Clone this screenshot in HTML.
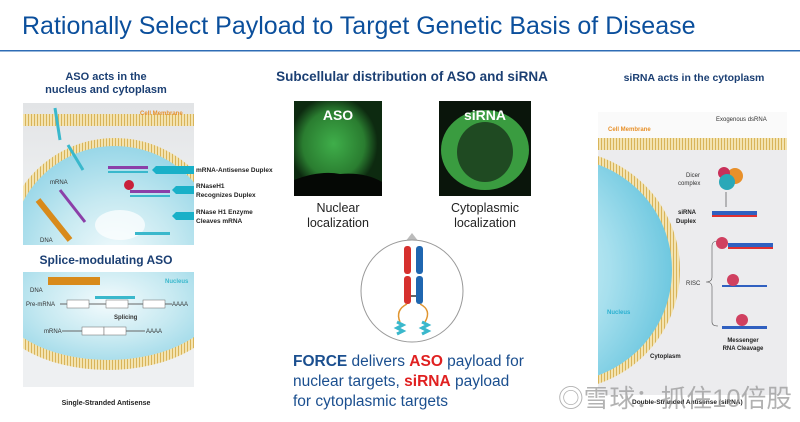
<!DOCTYPE html>
<html><head><meta charset="utf-8"><style>
body{margin:0;width:800px;height:422px;overflow:hidden;background:#fff;font-family:"Liberation Sans",sans-serif;}
svg{display:block}
</style></head><body>
<svg width="800" height="422" viewBox="0 0 800 422" xmlns="http://www.w3.org/2000/svg" font-family="Liberation Sans, sans-serif">
<defs>
<radialGradient id="nuc" cx="0.5" cy="0.55" r="0.6"><stop offset="0" stop-color="#f4fbfd"/><stop offset="0.5" stop-color="#c6e9f1"/><stop offset="1" stop-color="#8fd3e6"/></radialGradient>
<radialGradient id="nuc2" cx="0.3" cy="0.5" r="0.7"><stop offset="0" stop-color="#e6f7fb"/><stop offset="0.6" stop-color="#a8e0ee"/><stop offset="1" stop-color="#6fc8e0"/></radialGradient>
<linearGradient id="cyt" x1="0" y1="0" x2="0" y2="1"><stop offset="0" stop-color="#e2e4e6"/><stop offset="1" stop-color="#f4f5f6"/></linearGradient>
<pattern id="mem" width="3" height="10" patternUnits="userSpaceOnUse"><rect width="3" height="10" fill="#f3e3b0"/><rect x="1" width="1" height="10" fill="#d8b45a"/></pattern>
<radialGradient id="gA" cx="0.45" cy="0.45" r="0.5"><stop offset="0" stop-color="#3fae4a"/><stop offset="0.7" stop-color="#2a7d30"/><stop offset="1" stop-color="#0d2a10"/></radialGradient>
<clipPath id="c1"><rect x="23" y="103" width="171" height="142"/></clipPath>
<clipPath id="c2"><rect x="23" y="272" width="171" height="115"/></clipPath>
<clipPath id="c3"><rect x="598" y="112" width="189" height="283"/></clipPath>
</defs>

<text x="22" y="34" font-size="25" fill="#0b4f9c">Rationally Select Payload to Target Genetic Basis of Disease</text>
<rect x="0" y="50" width="800" height="1.5" fill="#2e6cb5"/>

<g font-weight="bold" fill="#1b3f73" font-size="11" text-anchor="middle">
<text x="106" y="80">ASO acts in the</text>
<text x="106" y="93">nucleus and cytoplasm</text>
<text x="106" y="264" font-size="12">Splice-modulating ASO</text>
</g>
<g clip-path="url(#c1)">
<rect x="23" y="103" width="171" height="142" fill="url(#cyt)"/>
<rect x="23" y="114" width="171" height="12" fill="url(#mem)"/>
<circle cx="115" cy="250" r="112" fill="url(#mem)"/>
<circle cx="115" cy="250" r="104" fill="url(#nuc)"/>
<ellipse cx="120" cy="225" rx="25" ry="15" fill="#fff" opacity="0.7"/>
<text x="140" y="115" font-size="6" font-weight="bold" fill="#e8912a">Cell Membrane</text>
<line x1="55" y1="108" x2="60" y2="140" stroke="#3ab8cc" stroke-width="3"/>
<line x1="68" y1="145" x2="83" y2="170" stroke="#3ab8cc" stroke-width="3"/>
<rect x="108" y="166" width="40" height="3" fill="#8b3fa8"/><rect x="108" y="171" width="40" height="2" fill="#3ab8cc"/>
<rect x="130" y="190" width="40" height="3" fill="#8b3fa8"/><rect x="130" y="195" width="40" height="2" fill="#3ab8cc"/>
<circle cx="129" cy="185" r="5" fill="#c8203a"/>
<rect x="135" y="232" width="35" height="3" fill="#3ab8cc"/>
<line x1="60" y1="190" x2="85" y2="222" stroke="#8b3fa8" stroke-width="3"/>
<line x1="38" y1="200" x2="70" y2="240" stroke="#d88a1a" stroke-width="6"/>
<text x="50" y="184" font-size="6" fill="#333">mRNA</text>
<text x="40" y="242" font-size="6" fill="#333">DNA</text>
<polygon points="156,166 194,166 194,174 156,174 152,170" fill="#19b0c8"/>
<polygon points="176,186 194,186 194,194 176,194 172,190" fill="#19b0c8"/>
<polygon points="176,212 194,212 194,220 176,220 172,216" fill="#19b0c8"/>
</g>
<g font-size="6.5" font-weight="bold" fill="#222">
<text x="196" y="172">mRNA-Antisense Duplex</text>
<text x="196" y="188">RNaseH1</text><text x="196" y="197">Recognizes Duplex</text>
<text x="196" y="214">RNase H1 Enzyme</text><text x="196" y="223">Cleaves mRNA</text>
</g>
<g clip-path="url(#c2)">
<rect x="23" y="272" width="171" height="115" fill="#eef0f2"/>
<ellipse cx="108" cy="300" rx="118" ry="70" fill="url(#mem)"/>
<ellipse cx="108" cy="296" rx="112" ry="64" fill="url(#nuc)"/>
<rect x="48" y="277" width="52" height="8" fill="#d88a1a"/>
<text x="165" y="283" font-size="6" font-weight="bold" fill="#3ab8cc">Nucleus</text>
<text x="30" y="292" font-size="6" fill="#333">DNA</text>
<text x="26" y="306" font-size="6" fill="#333">Pre-mRNA</text>
<line x1="60" y1="304" x2="172" y2="304" stroke="#666"/>
<rect x="67" y="300" width="22" height="8" fill="#fff" stroke="#666" stroke-width="0.5"/>
<rect x="106" y="300" width="22" height="8" fill="#fff" stroke="#666" stroke-width="0.5"/>
<rect x="143" y="300" width="22" height="8" fill="#fff" stroke="#666" stroke-width="0.5"/>
<rect x="95" y="296" width="40" height="3" fill="#3ab8cc"/>
<text x="172" y="306" font-size="6" fill="#333">AAAA</text>
<text x="114" y="319" font-size="6" font-weight="bold" fill="#333">Splicing</text>
<text x="44" y="333" font-size="6" fill="#333">mRNA</text>
<line x1="62" y1="331" x2="145" y2="331" stroke="#666"/>
<rect x="82" y="327" width="22" height="8" fill="#fff" stroke="#666" stroke-width="0.5"/>
<rect x="104" y="327" width="22" height="8" fill="#fff" stroke="#666" stroke-width="0.5"/>
<text x="146" y="333" font-size="6" fill="#333">AAAA</text>
</g>
<text x="106" y="405" font-size="7" font-weight="bold" fill="#222" text-anchor="middle">Single-Stranded Antisense</text>

<text x="412" y="81" font-size="13.5" font-weight="bold" fill="#1b3f73" text-anchor="middle">Subcellular distribution of ASO and siRNA</text>
<rect x="294" y="101" width="88" height="95" fill="#1c5a22"/>
<rect x="294" y="101" width="88" height="95" fill="url(#gA)"/>
<path d="M294 180 Q320 170 340 174 Q365 172 382 182 L382 196 L294 196Z" fill="#050805"/>
<text x="338" y="120" font-size="14" font-weight="bold" fill="#fff" text-anchor="middle">ASO</text>
<rect x="439" y="101" width="92" height="95" fill="#0a150b"/>
<ellipse cx="485" cy="150" rx="44" ry="40" fill="#3a9c40"/>
<ellipse cx="485" cy="152" rx="28" ry="30" fill="#1f4a22"/>
<text x="485" y="120" font-size="14" font-weight="bold" fill="#fff" text-anchor="middle">siRNA</text>
<g font-size="12.5" fill="#222" text-anchor="middle">
<text x="338" y="212">Nuclear</text><text x="338" y="227">localization</text>
<text x="485" y="212">Cytoplasmic</text><text x="485" y="227">localization</text>
</g>
<polygon points="412,233 405,242 419,242" fill="#bbb"/>
<circle cx="412" cy="291" r="51" fill="#fff" stroke="#999" stroke-width="1"/>
<rect x="404" y="246" width="7" height="28" rx="3" fill="#d6302e"/>
<rect x="404" y="276" width="7" height="28" rx="3" fill="#d6302e"/>
<rect x="416" y="246" width="7" height="28" rx="3" fill="#1f66b0"/>
<rect x="416" y="276" width="7" height="28" rx="3" fill="#1f66b0"/>
<rect x="411" y="295" width="5" height="2" fill="#666"/>
<path d="M407 304 Q395 310 400 322 M420 304 Q432 310 425 322" fill="none" stroke="#e09530" stroke-width="1.5"/>
<path d="M397 322 l6 3 l-6 3 l6 3 l-6 3 M422 322 l6 3 l-6 3 l6 3 l-6 3" fill="none" stroke="#3ab8cc" stroke-width="3"/>
<g font-size="15.5" fill="#1b4f8f">
<text x="293" y="366"><tspan font-weight="bold">FORCE</tspan> delivers <tspan font-weight="bold" fill="#e02020">ASO</tspan> payload for</text>
<text x="293" y="386">nuclear targets, <tspan font-weight="bold" fill="#e02020">siRNA</tspan> payload</text>
<text x="293" y="406">for cytoplasmic targets</text>
</g>

<text x="694" y="81" font-size="10.5" font-weight="bold" fill="#1b3f73" text-anchor="middle">siRNA acts in the cytoplasm</text>
<g clip-path="url(#c3)">
<rect x="598" y="112" width="189" height="283" fill="#ececee"/>
<rect x="598" y="112" width="189" height="26" fill="#fafafa"/>
<rect x="598" y="138" width="189" height="12" fill="url(#mem)"/>
<circle cx="560" cy="270" r="120" fill="url(#mem)"/>
<circle cx="560" cy="270" r="112" fill="url(#nuc2)"/>
<text x="608" y="131" font-size="6" font-weight="bold" fill="#e8912a">Cell Membrane</text>
<text x="716" y="121" font-size="6" fill="#333">Exogenous dsRNA</text>
<circle cx="735" cy="176" r="8" fill="#e8902a"/>
<circle cx="724" cy="173" r="6" fill="#c8305a"/>
<circle cx="727" cy="182" r="8" fill="#2aa8b8"/>
<text x="686" y="177" font-size="6" fill="#333">Dicer</text><text x="678" y="185" font-size="6" fill="#333">complex</text>
<line x1="726" y1="192" x2="726" y2="207" stroke="#333" stroke-width="0.6"/>
<rect x="712" y="211" width="45" height="4" fill="#3060c0"/><rect x="712" y="215" width="45" height="2" fill="#e03030"/>
<text x="678" y="214" font-size="6" font-weight="bold" fill="#222">siRNA</text><text x="676" y="223" font-size="6" font-weight="bold" fill="#222">Duplex</text>
<path d="M718 241 Q712 241 712 246 L712 277 Q712 282 706 282 Q712 282 712 287 L712 322 Q712 326 718 326" fill="none" stroke="#555" stroke-width="0.6"/>
<text x="686" y="285" font-size="6" fill="#333">RISC</text>
<rect x="728" y="243" width="45" height="4" fill="#3060c0"/><rect x="728" y="247" width="45" height="2" fill="#e03030"/>
<circle cx="722" cy="243" r="6" fill="#d04060"/>
<rect x="722" y="285" width="45" height="2" fill="#3060c0"/><circle cx="733" cy="280" r="6" fill="#d04060"/>
<rect x="722" y="326" width="45" height="3" fill="#3060c0"/><circle cx="742" cy="320" r="6" fill="#d04060"/>
<text x="743" y="342" font-size="6" font-weight="bold" fill="#222" text-anchor="middle">Messenger</text>
<text x="743" y="350" font-size="6" font-weight="bold" fill="#222" text-anchor="middle">RNA Cleavage</text>
<text x="607" y="314" font-size="6" font-weight="bold" fill="#2ab0d0">Nucleus</text>
<text x="650" y="358" font-size="6" font-weight="bold" fill="#222">Cytoplasm</text>
</g>
<text x="632" y="404" font-size="6.5" font-weight="bold" fill="#222">Double-Stranded Antisense (siRNA)</text>
<text x="558" y="407" font-size="25" fill="#999" opacity="0.75" textLength="234" lengthAdjust="spacingAndGlyphs" font-family="Liberation Sans, Noto Sans CJK SC, sans-serif">◎雪球：抓住10倍股</text>
</svg>
</body></html>
